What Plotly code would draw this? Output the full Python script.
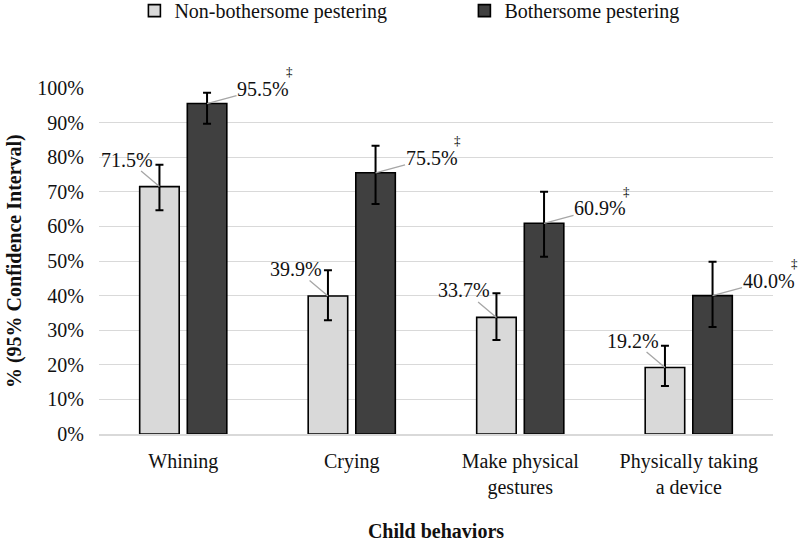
import plotly.graph_objects as go

categories = ["Whining", "Crying", "Make physical<br>gestures", "Physically taking<br>a device"]
series_names = ["Non-bothersome pestering", "Bothersome pestering"]

non_bothersome = [71.5, 39.9, 33.7, 19.2]
non_bothersome_upper = [77.8, 47.3, 40.7, 25.5]
non_bothersome_lower = [64.7, 32.9, 27.2, 13.9]

bothersome = [95.5, 75.5, 60.9, 40.0]
bothersome_upper = [98.6, 83.3, 70.0, 49.8]
bothersome_lower = [89.7, 66.5, 51.2, 30.9]

significance_mark = ["‡", "‡", "‡", "‡"]

y_ticks = [0, 10, 20, 30, 40, 50, 60, 70, 80, 90, 100]
y_tick_labels = [f"{v}%" for v in y_ticks]
y_title = "% (95% Confidence Interval)"
x_title = "Child behaviors"

FONT = "Liberation Serif"
TXT = "#111111"
BARGAP = 0.435
BARGROUPGAP = 0.17

fig = go.Figure()

def err(vals, up, lo):
    return dict(type="data", symmetric=False,
                array=[u - v for u, v in zip(up, vals)],
                arrayminus=[v - l for v, l in zip(vals, lo)],
                color="#000000", thickness=2, width=4)

fig.add_trace(go.Bar(
    x=categories, y=non_bothersome, name=series_names[0],
    marker=dict(color="#d9d9d9", line=dict(color="#000000", width=1.6)),
    error_y=err(non_bothersome, non_bothersome_upper, non_bothersome_lower),
))
fig.add_trace(go.Bar(
    x=categories, y=bothersome, name=series_names[1],
    marker=dict(color="#404040", line=dict(color="#000000", width=1.6)),
    error_y=err(bothersome, bothersome_upper, bothersome_lower),
))

slot = (1 - BARGAP) / 2
offset = slot / 2

annotations = []
for i, v in enumerate(non_bothersome):
    annotations.append(dict(
        x=i - offset, y=v, xref="x", yref="y", text=f"{v:.1f}%",
        showarrow=True, arrowhead=0, arrowwidth=1.3, arrowcolor="#a6a6a6",
        ax=-32, ay=-27, font=dict(family=FONT, size=20, color=TXT),
        borderpad=0,
    ))
for i, v in enumerate(bothersome):
    annotations.append(dict(
        x=i + offset, y=v, xref="x", yref="y", text=f"{v:.1f}%",
        showarrow=True, arrowhead=0, arrowwidth=1.3, arrowcolor="#a6a6a6",
        ax=56, ay=-15, font=dict(family=FONT, size=20, color=TXT),
        borderpad=0,
    ))
    annotations.append(dict(
        x=i + offset, y=v, xref="x", yref="y", text=significance_mark[i],
        showarrow=False, xshift=82, yshift=32,
        font=dict(family=FONT, size=13, color="#000000"),
    ))

annotations.append(dict(
    x=-0.126, y=0.5, xref="paper", yref="paper", text=f"<b>{y_title}</b>",
    textangle=-90, showarrow=False, xanchor="center", yanchor="middle",
    font=dict(family=FONT, size=20, color=TXT),
))

fig.update_layout(
    width=800, height=542,
    margin=dict(l=99, r=27, t=88, b=108, autoexpand=False),
    paper_bgcolor="white", plot_bgcolor="white",
    barmode="group", bargap=BARGAP, bargroupgap=BARGROUPGAP,
    font=dict(family=FONT, size=20, color=TXT),
    showlegend=True,
    legend=dict(orientation="h", xref="container", yref="paper",
                x=0.168, xanchor="left", y=1.28, yanchor="top",
                bgcolor="rgba(0,0,0,0)",
                font=dict(family=FONT, size=20, color=TXT),
                entrywidth=285, itemwidth=30, tracegroupgap=0),
    annotations=annotations,
    xaxis=dict(
        range=[-0.5, len(categories) - 0.5], autorange=False,
        showgrid=False, showline=True, linecolor="#d9d9d9", linewidth=1.5,
        ticks="", tickfont=dict(family=FONT, size=20, color=TXT),
        ticklabelstandoff=8,
        title=dict(text=f"<b>{x_title}</b>", standoff=28,
                   font=dict(family=FONT, size=20, color=TXT)),
    ),
    yaxis=dict(
        range=[0, 100], tickvals=y_ticks, ticktext=y_tick_labels,
        showgrid=True, gridcolor="#d9d9d9", gridwidth=1.3,
        zeroline=False, showline=False, ticks="",
        tickfont=dict(family=FONT, size=20, color=TXT),
        ticklabelstandoff=14,
    ),
)

fig.write_html("out.html", config={"displayModeBar": False},
               post_script="document.body.style.margin='0';")
